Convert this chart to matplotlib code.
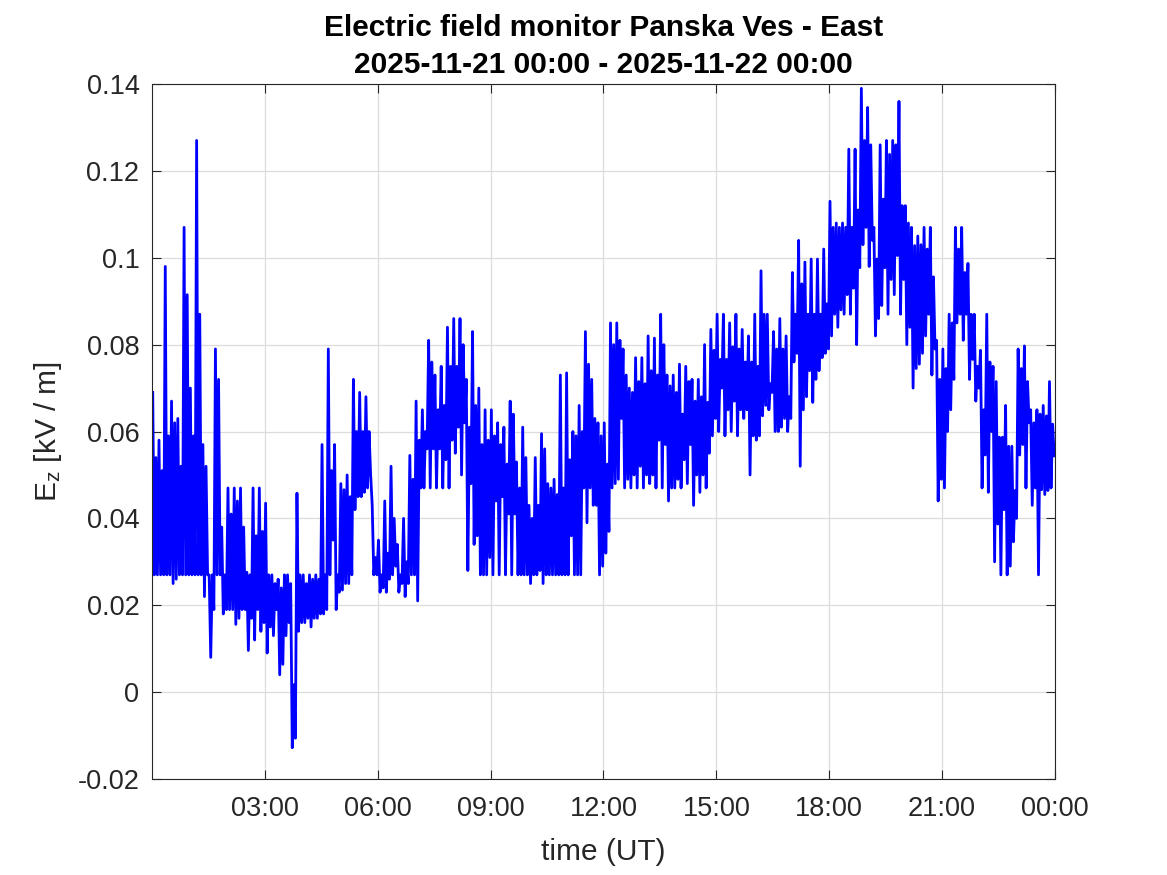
import numpy as np
import matplotlib
matplotlib.use("Agg")
import matplotlib.pyplot as plt

# 10-minute bins over the day [kV/m]:
# main peak, main trough, secondary peak, secondary trough in each bin
ez_high = [
    0.069, 0.058, 0.098, 0.067, 0.063, 0.107,      # 00h
    0.070, 0.127, 0.057, 0.027, 0.079, 0.038,      # 01h
    0.047, 0.047, 0.047, 0.0276, 0.047, 0.047,     # 02h
    0.0435, 0.027, 0.026, 0.027, 0.025, 0.0458,    # 03h
    0.027, 0.027, 0.027, 0.057, 0.079, 0.057,      # 04h
    0.048, 0.050, 0.072, 0.069, 0.068, 0.043,      # 05h
    0.035, 0.044, 0.052, 0.034, 0.040, 0.0545,     # 06h
    0.067, 0.065, 0.081, 0.073, 0.075, 0.084,      # 07h
    0.086, 0.086, 0.072, 0.083, 0.070, 0.065,      # 08h
    0.065, 0.062, 0.061, 0.067, 0.053, 0.061,      # 09h
    0.043, 0.054, 0.0595, 0.048, 0.049, 0.073,     # 10h
    0.0735, 0.060, 0.066, 0.083, 0.072, 0.062,     # 11h
    0.062, 0.085, 0.085, 0.079, 0.070, 0.077,      # 12h
    0.077, 0.082, 0.0815, 0.087, 0.073, 0.073,     # 13h
    0.0755, 0.075, 0.072, 0.072, 0.080, 0.0835,    # 14h
    0.087, 0.087, 0.085, 0.087, 0.0835, 0.082,     # 15h
    0.087, 0.097, 0.087, 0.083, 0.086, 0.082,      # 16h
    0.0966, 0.104, 0.099, 0.0997, 0.0997, 0.102,   # 17h
    0.113, 0.108, 0.108, 0.125, 0.125, 0.139,      # 18h
    0.1346, 0.107, 0.126, 0.127, 0.127, 0.136,     # 19h
    0.112, 0.107, 0.105, 0.107, 0.107, 0.081,      # 20h
    0.079, 0.087, 0.107, 0.107, 0.0987, 0.087,     # 21h
    0.0787, 0.087, 0.075, 0.0587, 0.066, 0.0566,   # 22h
    0.079, 0.0797, 0.065, 0.065, 0.066, 0.0715,    # 23h
]
ez_low = [
    0.027, 0.027, 0.027, 0.025, 0.027, 0.027,
    0.027, 0.027, 0.022, 0.008, 0.027, 0.018,
    0.019, 0.0156, 0.019, 0.0096, 0.012, 0.014,
    0.009, 0.013, 0.004, 0.013, -0.0128, 0.014,
    0.016, 0.015, 0.017, 0.018, 0.027, 0.019,
    0.0235, 0.025, 0.042, 0.045, 0.047, 0.027,
    0.023, 0.023, 0.027, 0.023, 0.022, 0.027,
    0.021, 0.047, 0.047, 0.047, 0.047, 0.047,
    0.055, 0.050, 0.028, 0.034, 0.027, 0.027,
    0.027, 0.027, 0.027, 0.027, 0.027, 0.027,
    0.025, 0.027, 0.025, 0.027, 0.027, 0.027,
    0.027, 0.027, 0.027, 0.039, 0.043, 0.027,
    0.032, 0.047, 0.049, 0.047, 0.047, 0.047,
    0.047, 0.048, 0.047, 0.047, 0.044, 0.047,
    0.047, 0.048, 0.043, 0.046, 0.047, 0.059,
    0.060, 0.059, 0.060, 0.059, 0.063, 0.050,
    0.058, 0.0636, 0.065, 0.060, 0.061, 0.060,
    0.076, 0.052, 0.068, 0.0667, 0.074, 0.078,
    0.082, 0.084, 0.087, 0.087, 0.080, 0.103,
    0.098, 0.082, 0.089, 0.087, 0.0915, 0.087,
    0.080, 0.070, 0.0755, 0.082, 0.073, 0.044,
    0.047, 0.065, 0.085, 0.081, 0.072, 0.067,
    0.047, 0.046, 0.030, 0.027, 0.027, 0.0346,
    0.0546, 0.047, 0.043, 0.027, 0.0455, 0.047,
]
ez_high2 = [
    0.054, 0.051, 0.059, 0.062, 0.052, 0.0915,
    0.059, 0.087, 0.052, 0.027, 0.072, 0.027,
    0.041, 0.044, 0.038, 0.027, 0.036, 0.037,
    0.027, 0.025, 0.024, 0.027, 0.0017, 0.027,
    0.025, 0.026, 0.026, 0.027, 0.051, 0.027,
    0.0466, 0.045, 0.060, 0.060, 0.060, 0.031,
    0.027, 0.032, 0.040, 0.027, 0.030, 0.049,
    0.058, 0.060, 0.076, 0.065, 0.066, 0.075,
    0.075, 0.080, 0.061, 0.066, 0.057, 0.058,
    0.059, 0.057, 0.0525, 0.064, 0.047, 0.054,
    0.040, 0.043, 0.056, 0.047, 0.0455, 0.047,
    0.0535, 0.059, 0.060, 0.0755, 0.063, 0.059,
    0.0525, 0.080, 0.081, 0.073, 0.069, 0.0715,
    0.071, 0.074, 0.073, 0.080, 0.0705, 0.069,
    0.064, 0.0715, 0.067, 0.068, 0.0667, 0.0787,
    0.0766, 0.0766, 0.0795, 0.079, 0.076, 0.076,
    0.075, 0.087, 0.071, 0.079, 0.079, 0.068,
    0.087, 0.094, 0.087, 0.087, 0.087, 0.0894,
    0.107, 0.107, 0.107, 0.107, 0.111, 0.127,
    0.126, 0.0997, 0.1135, 0.1238, 0.126, 0.112,
    0.108, 0.1028, 0.103, 0.102, 0.0956, 0.072,
    0.0745, 0.085, 0.102, 0.0966, 0.087, 0.075,
    0.065, 0.076, 0.0715, 0.0587, 0.0566, 0.0464,
    0.0745, 0.0715, 0.062, 0.064, 0.0636, 0.0617,
]
ez_low2 = [
    0.027, 0.027, 0.027, 0.026, 0.027, 0.027,
    0.027, 0.027, 0.027, 0.019, 0.027, 0.019,
    0.019, 0.017, 0.019, 0.017, 0.019, 0.016,
    0.015, 0.019, 0.0064, 0.016, -0.0106, 0.016,
    0.017, 0.017, 0.018, 0.019, 0.035, 0.023,
    0.025, 0.027, 0.045, 0.046, 0.050, 0.027,
    0.024, 0.026, 0.029, 0.025, 0.025, 0.027,
    0.047, 0.056, 0.056, 0.056, 0.0535, 0.058,
    0.061, 0.062, 0.048, 0.036, 0.027, 0.031,
    0.044, 0.045, 0.041, 0.041, 0.027, 0.027,
    0.027, 0.028, 0.027, 0.027, 0.027, 0.027,
    0.036, 0.027, 0.047, 0.047, 0.043, 0.029,
    0.037, 0.048, 0.063, 0.049, 0.050, 0.052,
    0.050, 0.050, 0.058, 0.057, 0.047, 0.049,
    0.0535, 0.057, 0.050, 0.050, 0.055, 0.063,
    0.070, 0.065, 0.067, 0.065, 0.065, 0.059,
    0.059, 0.066, 0.069, 0.060, 0.063, 0.063,
    0.078, 0.065, 0.074, 0.072, 0.077, 0.079,
    0.087, 0.088, 0.0915, 0.093, 0.0977, 0.107,
    0.104, 0.086, 0.0977, 0.095, 0.1005, 0.095,
    0.084, 0.0745, 0.078, 0.087, 0.079, 0.049,
    0.060, 0.072, 0.087, 0.087, 0.0766, 0.070,
    0.0546, 0.060, 0.0387, 0.042, 0.029, 0.040,
    0.057, 0.062, 0.047, 0.0466, 0.0464, 0.0544,
]

x_ticks = [3, 6, 9, 12, 15, 18, 21, 24]
x_tick_labels = ["03:00", "06:00", "09:00", "12:00", "15:00", "18:00", "21:00", "00:00"]
y_ticks = [-0.02, 0, 0.02, 0.04, 0.06, 0.08, 0.1, 0.12, 0.14]
y_tick_labels = ["-0.02", "0", "0.02", "0.04", "0.06", "0.08", "0.1", "0.12", "0.14"]

# sample times in hours: four samples per 10-minute bin
n = len(ez_high)
bin_start = np.arange(n) / 6.0
step = 1 / 24.0
t = np.column_stack([bin_start + 0.5 * step, bin_start + 1.5 * step,
                     bin_start + 2.5 * step, bin_start + 3.5 * step]).ravel()
ez = np.column_stack([ez_high, ez_low, ez_high2, ez_low2]).ravel()

plt.rcParams['font.family'] = ['Liberation Sans', 'DejaVu Sans']
plt.rcParams['mathtext.default'] = 'regular'
txt = '#262626'

fig = plt.figure(figsize=(11.67, 8.75), dpi=100)
ax = fig.add_axes([0.1302, 0.1097, 0.7738, 0.7943])

ax.plot(t, ez, color='#0000ff', linewidth=2.0)

ax.set_xlim(0, 24)
ax.set_ylim(-0.02, 0.14)
ax.set_xticks(x_ticks)
ax.set_xticklabels(x_tick_labels)
ax.set_yticks(y_ticks)
ax.set_yticklabels(y_tick_labels)

ax.grid(True, color='#dcdcdc', linewidth=0.9)
ax.set_axisbelow(True)
ax.tick_params(direction='in', length=6.5, width=0.8, top=True, right=True,
               labelsize=19.5, colors=txt, pad=9)
ax.tick_params(axis='x', pad=12)
for s in ax.spines.values():
    s.set_color(txt)
    s.set_linewidth(0.8)

ax.set_xlabel('time (UT)', fontsize=21.5, color=txt, labelpad=12)
ax.set_ylabel(r'E$_z$ [kV / m]', fontsize=21.5, color=txt, labelpad=10)
ax.set_title('Electric field monitor Panska Ves - East\n2025-11-21 00:00 - 2025-11-22 00:00',
             fontsize=21.5, fontweight='bold', color='black', linespacing=1.4, pad=8)

fig.savefig('out.png', dpi=100)
